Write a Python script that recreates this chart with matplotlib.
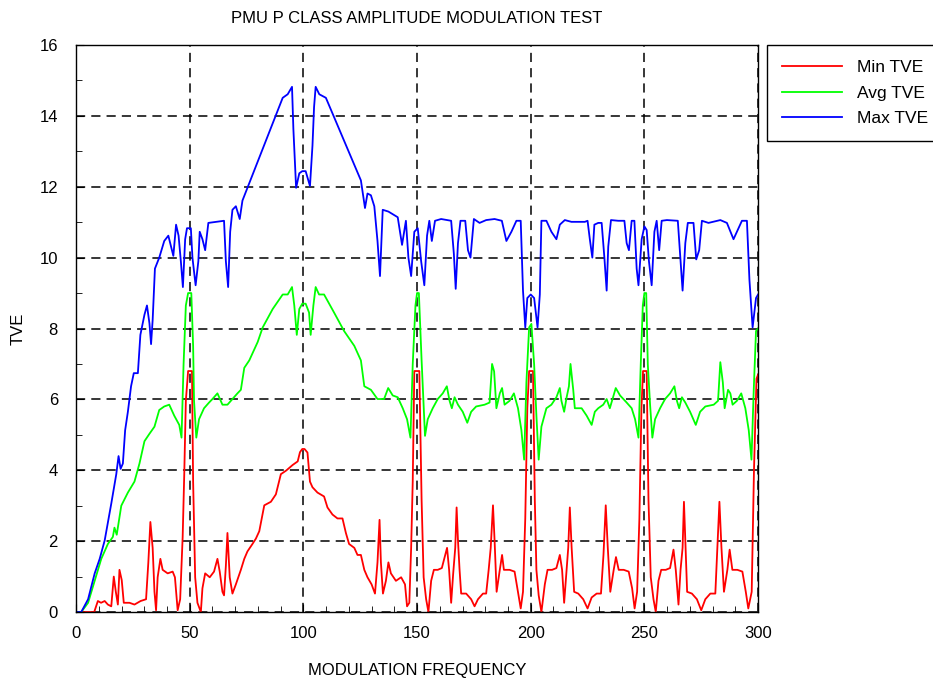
import numpy as np
import matplotlib
matplotlib.use('Agg')
import matplotlib.pyplot as plt
from matplotlib.ticker import MultipleLocator

plt.rcParams['font.family'] = ['Liberation Sans', 'DejaVu Sans']

#### DATA ####
min_x = [0, 8, 9.6, 11, 12.6, 14, 15.5, 16.6, 17.5, 18.4, 19.1, 20.1, 21, 23.5, 25.7, 28.4, 30.8, 31.8,
         32.7, 33.7, 34.5, 35.2, 35.9, 37.1, 38.1, 40.3, 42.5, 43.5, 44.7, 45.8, 46.9, 47.6, 48.3, 49.3,
         51, 51.5, 52.4, 53.4, 54.9, 55.6, 56.8, 58.8, 60.7, 62.2, 63.2, 64.4, 65.1, 65.9, 66.6, 67.1,
         67.6, 68.8, 70.3, 72.5, 74, 75.4, 77.6, 79.1, 80.6, 82.8, 85.7, 87.9, 90.1, 92.4, 95.3, 97.5,
         98.5, 99.5, 100.5, 101.8, 102.9, 104, 106.2, 109.1, 110.6, 112.8, 115, 117.2, 118.7, 120.1,
         122.4, 123.8, 125.3, 126.8, 128.2, 130, 131.5, 132.6, 133.5, 134.1, 135, 136.3, 137.4, 138.5,
         140.7, 143, 144.7, 145.6, 146.6, 147.4, 148.1, 148.8, 151, 152, 152.9, 154, 155, 156.2, 157.4,
         159.1, 160.9, 162.4, 163.2, 164.1, 165, 165.9, 166.8, 167.4, 168, 168.7, 169.4, 171.6, 173.8,
         175.3, 176.8, 179, 180.4, 181.5, 182.4, 183.4, 184.1, 185, 186.4, 187.4, 188.2, 190.7, 192.9,
         194.4, 195.6, 196.6, 197.6, 198.5, 199.3, 201, 201.8, 202.5, 203.5, 204.7, 206.2, 207.4, 209.4,
         211.3, 212.8, 213.8, 214.7, 215.8, 216.5, 217.2, 218, 219.1, 220.9, 223.1, 225, 226.8, 229,
         230.9, 232, 233, 233.9, 235, 236.5, 237.5, 238.7, 240.9, 243.1, 244.6, 245.7, 246.8, 247.8,
         248.7, 249.4, 251, 251.8, 252.8, 254, 255, 256.2, 257.4, 259.4, 261.3, 262.8, 263.8, 265,
         265.9, 266.8, 267.4, 268, 268.8, 270.9, 273.1, 275, 276.8, 279, 281.2, 282.1, 283, 283.9, 285,
         286.5, 287.5, 288.7, 290.9, 293.1, 294.6, 295.7, 297.2, 298.2, 299.3, 300]
min_tve = [0, 0, 0.31, 0.26, 0.31, 0.21, 0.16, 1.0, 0.57, 0.21, 1.19, 0.9, 0.26, 0.26, 0.21, 0.31, 0.36, 1.4,
           2.54, 1.81, 0.57, 0.05, 0.98, 1.5, 1.19, 1.09, 1.14, 0.98, 0.05, 0.36, 2.12, 3.89, 5.96, 6.8,
           6.8, 3.68, 0.98, 0.26, 0, 0.67, 1.09, 0.98, 1.14, 1.5, 1.14, 0.57, 0.47, 1.3, 2.23, 1.61,
           0.98, 0.52, 0.78, 1.19, 1.5, 1.71, 1.92, 2.07, 2.28, 3.01, 3.11, 3.32, 3.89, 3.99, 4.15, 4.25,
           4.51, 4.6, 4.6, 4.5, 3.68, 3.52, 3.37, 3.26, 2.95, 2.75, 2.64, 2.64, 2.23, 1.92,
           1.81, 1.61, 1.61, 1.19, 0.98, 0.78, 0.52, 1.4, 2.6, 1.4, 0.52, 0.88, 1.4, 1.09,
           0.88, 0.98, 0.78, 0.16, 0.26, 1.81, 3.68, 6.8, 6.8, 3.16, 0.98, 0.36, 0, 0.88, 1.19,
           1.19, 1.24, 1.61, 1.81, 1.19, 0.26, 1.09, 1.81, 2.95, 2.02, 1.19, 0.52, 0.52, 0.36,
           0.16, 0.36, 0.52, 0.52, 1.19, 1.81, 3.01, 2.02, 0.57, 1.19, 1.61, 1.19, 1.19, 1.14,
           0.57, 0.1, 0.57, 2.64, 5.75, 6.8, 6.8, 3.16, 1.19, 0.47, 0, 0.78, 1.19, 1.19,
           1.24, 1.61, 1.19, 0.26, 1.19, 1.81, 2.95, 1.81, 0.57, 0.52, 0.36, 0.1, 0.41, 0.52,
           0.52, 1.61, 3.01, 1.81, 0.57, 1.19, 1.55, 1.19, 1.19, 1.14, 0.67, 0.1, 0.57, 2.64,
           5.75, 6.8, 6.8, 3.16, 0.98, 0.36, 0, 0.88, 1.19, 1.19, 1.24, 1.76, 1.19, 0.21,
           1.19, 1.81, 3.11, 2.02, 0.57, 0.52, 0.36, 0.05, 0.36, 0.52, 0.52, 1.81, 3.11, 1.81, 0.57,
           1.19, 1.76, 1.19, 1.19, 1.14, 0.57, 0.1, 0.57, 3.99, 6.58, 6.7]

avg_x = [0, 2.3, 5.3, 8.2, 11.1, 14, 16.2, 16.9, 17.9, 19.9, 22.8, 25.7, 27.9, 30.1, 32.3, 34.5, 36.6,
         38.8, 41, 43.2, 45.4, 46.4, 47.3, 48.3, 49.3, 50.7, 51.5, 51.9, 52.9, 54.1, 56.3, 58.5, 60,
         62.2, 64.4, 66.6, 68.8, 71, 72.5, 74, 76.2, 79.9, 82.1, 86.5, 90.9, 93.1, 95, 96, 97.1, 98.2,
         99.5, 101, 102.5, 103.2, 104.4, 105.4, 106.9, 109.1, 113.5, 117.9, 122.4, 125.3, 126.8, 129.7,
         132.6, 135.5, 137.3, 139.3, 141.5, 143.7, 145.6, 147.1, 148.1, 149.3, 150, 150.8, 152, 152.8,
         153.5, 154.7, 156.9, 159.1, 161.3, 163.1, 164.3, 165.3, 166.5, 168, 170.1, 172.1, 173.8, 176,
         179.7, 181.9, 183, 183.9, 184.9, 186.4, 187.4, 188.5, 190.7, 192.6, 194.4, 195.9, 197.1, 198.1,
         199.3, 200.3, 201.5, 202.5, 203.5, 204.7, 206.9, 209.1, 211.3, 212.8, 213.5, 214.7, 215.8,
         216.8, 217.5, 218.7, 219.4, 222.4, 224.6, 226.8, 228.2, 229.7, 231.9, 233.4, 234.8, 237.4,
         239.3, 242.2, 244.4, 245.9, 247.4, 248.4, 249.3, 250, 250.8, 251.5, 252.5, 253.5, 254.7, 256.9,
         259.1, 261.3, 263.2, 264.3, 265.3, 266.5, 268, 270.1, 272.6, 274.5, 276.8, 280.5, 282.4, 283.4,
         284.5, 285.3, 286.8, 287.8, 288.8, 290.7, 292.6, 294.4, 295.9, 297.1, 298.1, 299.1, 300]
avg_tve = [0, 0, 0.26, 0.88, 1.5, 1.92, 2.12, 2.38, 2.18, 3.0, 3.37, 3.68, 4.19, 4.82, 5.03, 5.23, 5.7,
           5.8, 5.85, 5.54, 5.28, 4.92, 6.99, 8.65, 9.0, 9.0, 7.51, 5.96, 4.92, 5.44, 5.75, 5.91, 6.01,
           6.17, 5.85, 5.85, 6.01, 6.17, 6.27, 6.89, 7.1, 7.62, 8.03, 8.55, 8.96, 8.96, 9.17, 8.65, 7.82, 8.55,
           8.7, 8.7, 8.45, 7.82, 8.65, 9.17, 8.96, 8.96, 8.45, 7.93, 7.51, 7.1, 6.37, 6.27,
           6.01, 6.01, 6.32, 6.11, 6.06, 5.75, 5.44, 4.92, 6.99, 8.65, 9.0, 9.0, 7.1, 5.96,
           4.97, 5.44, 5.75, 6.01, 6.17, 6.37, 5.96, 5.75, 6.06, 5.85, 5.65, 5.34, 5.65, 5.8,
           5.85, 5.91, 7.0, 6.79, 5.75, 6.17, 6.32, 5.85, 5.96, 6.17, 5.75, 5.13, 4.3, 6.48,
           8.03, 8.13, 6.99, 5.54, 4.3, 5.23, 5.75, 5.85, 6.06, 6.32, 5.96, 5.65, 6.06,
           6.37, 7.0, 6.27, 5.75, 5.75, 5.54, 5.28, 5.65, 5.75, 5.85, 6.01, 5.75, 6.32,
           6.11, 5.91, 5.75, 5.44, 4.92, 6.99, 8.65, 9.0, 9.0, 6.99, 5.85, 4.92, 5.44, 5.75,
           6.01, 6.17, 6.37, 5.96, 5.75, 6.06, 5.91, 5.65, 5.28, 5.65, 5.8, 5.85, 5.96, 7.05,
           6.48, 5.75, 6.27, 6.17, 5.85, 5.96, 6.17, 5.75, 5.13, 4.3, 6.27, 7.93, 8.0]

max_x = [0, 2.3, 5.3, 8.2, 10.4, 12.6, 15.5, 17.7, 18.7, 19.6, 20.6, 21.6, 22.8, 24.2, 25.4, 27.2, 28.3,
         30.1, 31.2, 32.3, 33, 33.7, 34.7, 36.6, 38.8, 40.6, 41.8, 42.8, 44, 45.1, 46.1, 47, 48, 48.8,
         50.5, 51.2, 52.6, 53.8, 54.4, 55.6, 56.8, 58.2, 65.1, 65.9, 66.9, 67.8, 68.8, 70.3, 72, 73.2,
         75.4, 90.9, 93.1, 95, 95.6, 96.8, 98.2, 99.5, 101, 102.9, 104, 104.7, 105.4, 107, 109.9, 125.3,
         127.1, 128.2, 129.7, 131.2, 132.6, 133.7, 134.9, 137.4, 141.5, 143.4, 145.1, 146.2, 147.4,
         148.8, 150.3, 151.8, 153.2, 154.4, 155.4, 156.5, 157.9, 160.6, 165, 166.2, 167, 168, 169.1,
         171.2, 172.4, 173.5, 175, 177.5, 180.4, 184.1, 187.3, 189.3, 191.5, 193.7, 195.6, 196.6, 197.6,
         198.5, 200, 201.5, 203, 204, 204.7, 206.9, 209.1, 211.3, 212.8, 215, 217.9, 223.8, 225, 226,
         227.1, 228, 229.7, 231.2, 232.4, 233.4, 234.1, 235.3, 238.5, 241.2, 242.2, 243.2, 244.4, 245.6,
         246.6, 247.4, 248.8, 250, 251, 252, 253.2, 254.4, 255.4, 256.5, 257.6, 259.9, 264.7, 265.7,
         266.8, 268, 269.1, 271.6, 272.8, 274.1, 275.3, 278.2, 283.4, 286.3, 289.2, 292.9, 295.1, 296.2,
         297.6, 299.1, 300]
max_tve = [0, 0, 0.36, 1.09, 1.5, 2.02, 3.06, 3.89, 4.4, 4.04, 4.19, 5.13, 5.65, 6.37, 6.74, 6.74, 7.82,
           8.39, 8.65, 8.14, 7.56, 8.24, 9.69, 10.0, 10.47, 10.62, 10.31, 10.05, 10.93, 10.62, 9.9, 9.17,
           10.52, 10.83, 10.83, 10.0, 9.22, 9.9, 10.73, 10.52, 10.21, 10.98, 11.04, 9.9, 9.17, 10.73,
           11.35, 11.45, 11.09, 11.61, 11.97, 14.51, 14.61, 14.82, 13.63, 11.97, 12.38, 12.44, 12.44,
           12.02, 13.16, 14.25, 14.82, 14.61, 14.51, 12.18, 11.4, 11.81, 11.76, 11.45, 10.47, 9.48,
           11.35, 11.3, 11.14, 10.36, 11.04, 10.0, 9.48, 10.73, 10.83, 9.9, 9.22, 10.62, 11.04, 10.47,
           11.04, 11.09, 11.04, 10.1, 9.12, 10.41, 11.04, 11.04, 10.21, 10.0, 11.09, 10.98, 11.06,
           11.09, 11.04, 10.47, 10.73, 11.04, 11.04, 9.07, 8.03, 8.86, 8.96, 8.86, 8.03, 8.96, 11.04,
           11.04, 10.73, 10.52, 10.93, 11.06, 11.01, 11.01, 11.04, 10.52, 10.0, 10.93, 10.98, 10.98,
           10.0, 9.07, 10.31, 11.06, 11.04, 11.04, 10.41, 10.21, 11.04, 11.04, 9.69, 9.22, 10.52,
           10.88, 10.78, 9.9, 9.22, 10.73, 11.04, 10.21, 11.04, 11.06, 11.04, 10.1, 9.07, 10.41,
           10.98, 10.98, 9.95, 10.21, 11.04, 10.98, 11.06, 10.98, 10.52, 11.04, 11.04, 9.38, 8.03,
           8.86, 8.96]

#### PLOT ####
fig = plt.figure(figsize=(9.33, 6.8), dpi=100)
ax = fig.add_axes([0.0815, 0.1, 0.731, 0.8338])

ax.plot(min_x, min_tve, color='#ff0000', lw=1.3, label='Min TVE')
ax.plot(avg_x, avg_tve, color='#00ff00', lw=1.3, label='Avg TVE')
ax.plot(max_x, max_tve, color='#0000ff', lw=1.3, label='Max TVE')

ax.set_xlim(0, 300)
ax.set_ylim(0, 16)
ax.xaxis.set_major_locator(MultipleLocator(50))
ax.xaxis.set_minor_locator(MultipleLocator(10))
ax.yaxis.set_major_locator(MultipleLocator(2))
ax.yaxis.set_minor_locator(MultipleLocator(1))
ax.tick_params(which='both', direction='in', labelsize=12)
ax.tick_params(axis='x', which='major', pad=10)
ax.tick_params(axis='y', which='major', pad=13)
ax.tick_params(which='major', length=6)
ax.tick_params(which='minor', length=4)
ax.grid(True, which='major', color='black', linestyle=(0, (6, 4)), linewidth=1.1)
for s in ax.spines.values():
    s.set_linewidth(1.0)

ax.set_title('PMU P CLASS AMPLITUDE MODULATION TEST', fontsize=12, pad=16)
ax.set_xlabel('MODULATION FREQUENCY', fontsize=12, labelpad=16)
ax.set_ylabel('TVE', fontsize=12, labelpad=10)

leg = ax.legend(loc='upper left', bbox_to_anchor=(1.013, 1.0), fontsize=12.5, handlelength=3.45,
                fancybox=False, framealpha=1, edgecolor='black', borderaxespad=0,
                handletextpad=0.86, labelspacing=0.61, borderpad=0.85)
leg.get_frame().set_linewidth(1.0)

plt.savefig('out.png', dpi=100)
